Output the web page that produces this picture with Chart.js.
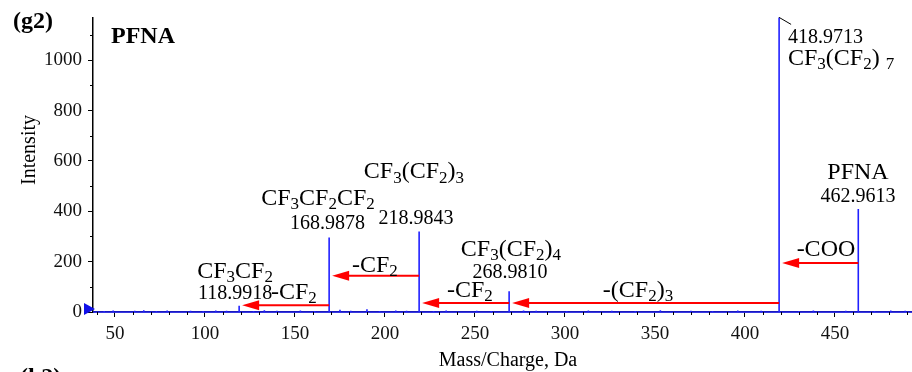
<!DOCTYPE html>
<html>
<head>
<meta charset="utf-8">
<script src="https://cdn.jsdelivr.net/npm/chart.js@4.4.1/dist/chart.umd.min.js"></script>
<style>
  html, body { margin: 0; padding: 0; background: #fff; }
  #wrap { width: 912px; height: 372px; position: relative; }
</style>
</head>
<body>
<div id="wrap"><canvas id="chart"></canvas></div>
<script>
// MS/MS spectrum of PFNA: main fragment peaks
const peakMz = [118.9918, 168.9878, 218.9843, 268.9810, 418.9713, 462.9613];
const peakIntensity = [25, 296, 320, 82, 1250, 409];

// small baseline spikes
const noiseMz = [44, 49, 55, 61, 66, 73, 79, 86, 92, 99, 106, 112, 127, 133, 140, 146, 153, 161, 175, 181, 190, 197, 206, 212, 227, 234, 242, 251, 259, 277, 284, 292, 301, 313, 326, 339, 353, 370, 382, 396, 409, 430, 438, 447, 456, 472, 481, 489];
const noiseIntensity = [4, 6, 3, 5, 7, 4, 6, 3, 5, 4, 6, 5, 4, 7, 5, 3, 6, 4, 9, 5, 11, 4, 6, 5, 4, 6, 3, 5, 4, 6, 5, 3, 4, 6, 5, 4, 7, 5, 4, 6, 5, 4, 6, 3, 5, 4, 6, 5];

// neutral losses: parent -> fragment, arrow drawn at this intensity
const lossFrom = [462.9613, 418.9713, 268.9810, 218.9843, 168.9878];
const lossTo = [418.9713, 268.9810, 218.9843, 168.9878, 118.9918];
const lossLevel = [195, 36, 36, 144, 27];

// axis ranges and ticks
const xRange = [37.8, 492.8];
const yRange = [0, 1170];
const xTickStep = 50;
const yTickStep = 200;

const FONT = '"Liberation Serif", "Times New Roman", serif';
const BLUE = "#2020ff";
const RED = "#ff0000";

// label text, anchor m/z, anchor intensity, font size, align ("_" = subscript)
const notes = [
  ["CF_3CF_2", 116.7, 136.5, 24, "center"],
  ["118.9918", 96.1, 50.7, 20, "left"],
  ["-CF_2", 136.7, 50.7, 24, "left"],
  ["CF_3CF_2CF_2", 162.8, 425, 24, "center"],
  ["168.9878", 168.1, 331.5, 20, "center"],
  ["CF_3(CF_2)_3", 216.1, 530.4, 24, "center"],
  ["218.9843", 217.2, 351, 20, "center"],
  ["-CF_2", 194.4, 160, 24, "center"],
  ["CF_3(CF_2)_4", 270, 222, 24, "center"],
  ["268.9810", 269.4, 136.5, 20, "center"],
  ["-CF_2", 247.2, 58.5, 24, "center"],
  ["-(CF_2)_3", 340.6, 58.5, 24, "center"],
  ["-COO", 445, 222, 24, "center"],
  ["PFNA", 462.8, 526.5, 24, "center"],
  ["462.9613", 462.8, 436.8, 20, "center"],
  ["418.9713", 423.9, 1068.6, 20, "left"],
  ["CF_3(CF_2) _7", 423.9, 982.8, 24, "left"]
];

// stick spectrum: every peak goes up from and back to the baseline
function buildSpectrum() {
  const sticks = peakMz.map((m, i) => [m, peakIntensity[i]])
    .concat(noiseMz.map((m, i) => [m, noiseIntensity[i]]))
    .sort((a, b) => a[0] - b[0]);
  const pts = [{ x: xRange[0], y: 0 }];
  sticks.forEach(([m, h]) => {
    pts.push({ x: m, y: 0 }, { x: m, y: h }, { x: m, y: 0 });
  });
  pts.push({ x: xRange[1], y: 0 });
  return pts;
}

// ticks on round multiples of the step only
function stepTicks(step) {
  return (scale) => {
    const t = [];
    for (let v = Math.ceil(scale.min / step) * step; v <= scale.max; v += step) t.push({ value: v });
    scale.ticks = t;
  };
}

// draws text where "_c" puts c as subscript
function drawFormula(ctx, text, x, y, size, align) {
  const subSize = Math.round(size * 0.7);
  const runs = [];
  for (let i = 0; i < text.length; i++) {
    let sub = false, ch = text[i];
    if (ch === "_") { sub = true; ch = text[++i]; }
    const last = runs[runs.length - 1];
    if (last && last.sub === sub) last.s += ch;
    else runs.push({ s: ch, sub: sub });
  }
  let w = 0;
  runs.forEach(r => {
    ctx.font = (r.sub ? subSize : size) + "px " + FONT;
    r.w = ctx.measureText(r.s).width;
    w += r.w;
  });
  let cx = align === "center" ? x - w / 2 : align === "right" ? x - w : x;
  ctx.textAlign = "left";
  ctx.textBaseline = "alphabetic";
  runs.forEach(r => {
    ctx.font = (r.sub ? subSize : size) + "px " + FONT;
    ctx.fillText(r.s, cx, r.sub ? y + size * 0.17 : y);
    cx += r.w;
  });
}

const decorations = {
  id: "decorations",
  afterDatasetsDraw(chart) {
    const { ctx, chartArea, scales: { x: xs, y: ys } } = chart;
    ctx.save();

    // minor ticks
    ctx.strokeStyle = "#000";
    ctx.lineWidth = 1;
    ctx.beginPath();
    for (let v = Math.ceil(xRange[0] / 10) * 10; v <= xRange[1]; v += 10) {
      if (v % xTickStep === 0) continue;
      const px = Math.round(xs.getPixelForValue(v)) + 0.5;
      ctx.moveTo(px, chartArea.bottom);
      ctx.lineTo(px, chartArea.bottom + 3);
    }
    for (let v = yTickStep / 2; v <= yRange[1]; v += yTickStep) {
      const py = Math.round(ys.getPixelForValue(v)) + 0.5;
      ctx.moveTo(chartArea.left - 3, py);
      ctx.lineTo(chartArea.left, py);
    }
    ctx.stroke();

    // off-scale mark on the base peak
    const top = peakIntensity.indexOf(Math.max(...peakIntensity));
    const bx = xs.getPixelForValue(peakMz[top]);
    ctx.beginPath();
    ctx.moveTo(bx, chartArea.top);
    ctx.lineTo(bx + 12, chartArea.top + 7);
    ctx.stroke();

    // loss arrows
    ctx.strokeStyle = RED;
    ctx.fillStyle = RED;
    ctx.lineWidth = 2;
    lossFrom.forEach((from, i) => {
      const x1 = xs.getPixelForValue(from);
      const tip = xs.getPixelForValue(lossTo[i]) + 3;
      const py = ys.getPixelForValue(lossLevel[i]);
      ctx.beginPath();
      ctx.moveTo(x1, py);
      ctx.lineTo(tip + 14, py);
      ctx.stroke();
      ctx.beginPath();
      ctx.moveTo(tip, py);
      ctx.lineTo(tip + 17, py - 5);
      ctx.lineTo(tip + 17, py + 5);
      ctx.closePath();
      ctx.fill();
    });

    // origin marker
    const y0 = ys.getPixelForValue(0);
    ctx.fillStyle = "#1010e8";
    ctx.beginPath();
    ctx.moveTo(chartArea.left + 2, y0 - 3);
    ctx.lineTo(chartArea.left - 9, y0 - 9);
    ctx.lineTo(chartArea.left - 9, y0 + 3);
    ctx.closePath();
    ctx.fill();

    // peak labels
    ctx.fillStyle = "#000";
    notes.forEach(([t, m, h, size, align]) => {
      drawFormula(ctx, t, xs.getPixelForValue(m), ys.getPixelForValue(h), size, align);
    });

    // panel letters and titles
    ctx.font = "bold 24px " + FONT;
    ctx.textAlign = "left";
    ctx.fillText("(g2)", 13, 28);
    ctx.fillText("PFNA", 111, 43);
    ctx.fillText("(h2)", 20, 384);

    ctx.font = "20px " + FONT;
    ctx.textAlign = "center";
    ctx.fillText("Mass/Charge, Da", 508, 366);
    ctx.translate(35, 150);
    ctx.rotate(-Math.PI / 2);
    ctx.fillText("Intensity", 0, 0);
    ctx.restore();
  }
};

new Chart(document.getElementById("chart"), {
  type: "line",
  data: {
    datasets: [{
      label: "PFNA",
      data: buildSpectrum(),
      borderColor: BLUE,
      borderWidth: 1.6,
      borderJoinStyle: "bevel",
      pointRadius: 0,
      tension: 0,
      clip: { left: 0, right: 0, top: 0, bottom: 4 }
    }]
  },
  options: {
    responsive: true,
    maintainAspectRatio: false,
    animation: false,
    layout: { padding: { top: 12, right: 0, left: 0, bottom: 0 } },
    plugins: {
      legend: { display: false },
      tooltip: { enabled: false }
    },
    scales: {
      x: {
        type: "linear",
        min: xRange[0],
        max: xRange[1],
        afterFit: (s) => { s.height = 60; },
        afterBuildTicks: stepTicks(xTickStep),
        border: { display: true, color: "#000", width: 1.5 },
        grid: { drawOnChartArea: false, drawTicks: true, tickLength: 5, color: "#000" },
        ticks: {
          autoSkip: false,
          maxRotation: 0,
          padding: 6,
          color: "#111",
          font: { family: FONT, size: 19 },
          callback: (v) => String(v)
        }
      },
      y: {
        min: yRange[0],
        max: yRange[1],
        afterFit: (s) => { s.width = 93; },
        afterBuildTicks: stepTicks(yTickStep),
        border: { display: true, color: "#000", width: 1.5 },
        grid: { drawOnChartArea: false, drawTicks: true, tickLength: 5, color: "#000" },
        ticks: {
          autoSkip: false,
          padding: 6,
          color: "#111",
          font: { family: FONT, size: 19 },
          callback: (v) => String(v)
        }
      }
    }
  },
  plugins: [decorations]
});
</script>
</body>
</html>
